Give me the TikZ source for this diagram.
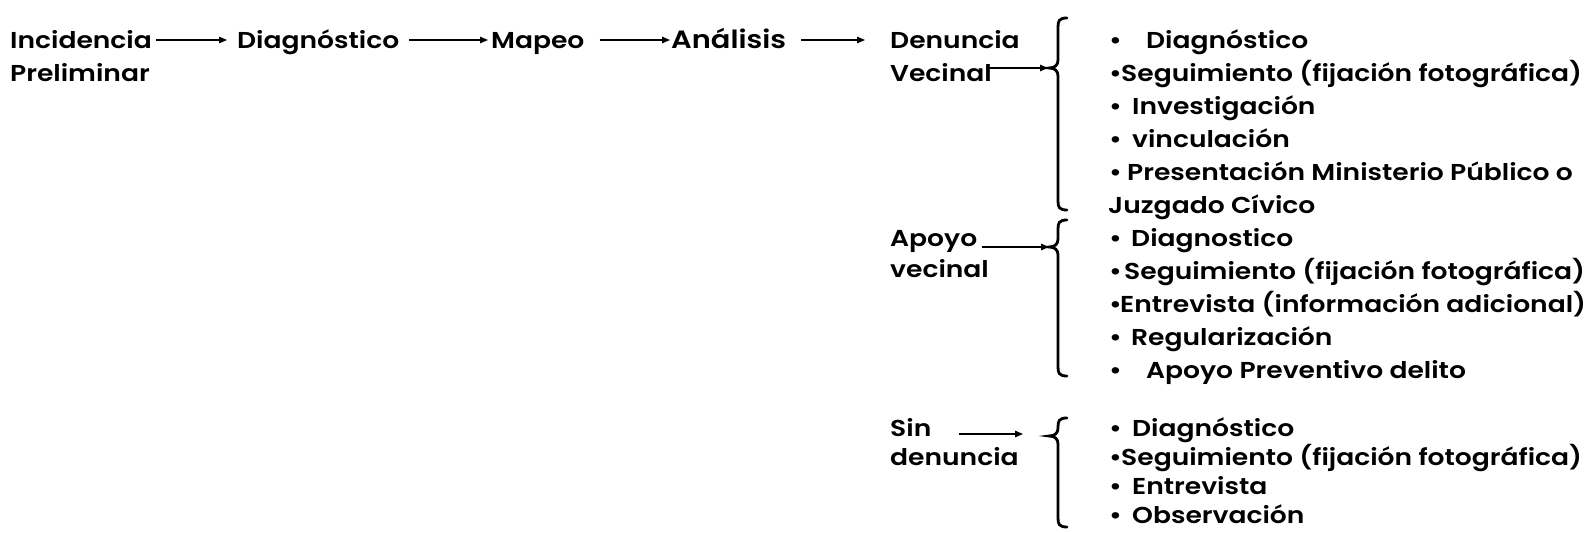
\documentclass[tikz,border=0pt]{standalone}
\usepackage{fontspec}
\setmainfont{Poppins}[UprightFont=* SemiBold, FakeStretch=1.155]
\usetikzlibrary{arrows.meta}
\newcommand\lsti[2]{\makebox[#1pt][l]{\textbullet}#2}
\newcommand\curly[3]{%
  \draw[brc] (1067,#1) .. controls (1059,#1) and (1058,#1+3) .. (1058,#1+9)
    -- (1058,#2-8) .. controls (1058,#2-3) and (1055,#2) .. (1049,#2)
    .. controls (1055,#2) and (1058,#2+3) .. (1058,#2+8)
    -- (1058,#3-9) .. controls (1058,#3-3) and (1059,#3) .. (1067,#3);}
\begin{document}
\begin{tikzpicture}[x=1pt,y=-1pt,
  lbl/.style={anchor=base west, inner sep=0pt, font=\fontsize{23}{28}\selectfont},
  big/.style={lbl, font=\fontsize{25}{30}\selectfont},
  arr/.style={line width=1.3pt, -{Triangle[length=8pt,width=6.5pt]}},
  brc/.style={line width=2.8pt, line cap=round}]
\useasboundingbox[fill=white] (0,0) rectangle (1591,533);

% main chain
\node[lbl] (inc) at (10,48) {Incidencia};
\node[lbl] (prel) at (10,81) {Preliminar};
\node[lbl] (diag) at (237,48) {Diagnóstico};
\node[lbl] (map) at (491,48) {Mapeo};
\node[big] (ana) at (671,48) {Análisis};
\node[lbl] (den) at (890,48) {Denuncia};
\node[lbl] (vec) at (890,81) {Vecinal};
\node[lbl] (apo) at (890,246) {Apoyo};
\node[lbl] (avec) at (890,277) {vecinal};
\node[lbl] (sin) at (890,436) {Sin};
\node[lbl] (sden) at (890,465) {denuncia};

\draw[arr] ([shift={(4,-8)}]inc.base east) -- ([shift={(-10,-8)}]diag.base west);
\draw[arr] ([shift={(10,-8)}]diag.base east) -- ([shift={(-3,-8)}]map.base west);
\draw[arr] ([shift={(15,-8)}]map.base east) -- ([shift={(-1,-8)}]ana.base west);
\draw[arr] ([shift={(15,-8)}]ana.base east) -- ([shift={(-25,-8)}]den.base west);

% braces
\curly{18}{68}{210}
\curly{220}{247}{376}
\curly{418}{436}{527}
\coordinate (c1) at (1048,68);
\coordinate (c2) at (1049,247);
\coordinate (s3) at (1023,434);
\draw[arr] ([shift={(-6,-13)}]vec.base east) -- (c1);
\draw[arr] ([shift={(5,1)}]apo.base east) -- (c2);
\draw[arr] ([shift={(27,-2)}]sin.base east) -- (s3);

% list 1
\node[lbl] (a1) at (1109,48) {\lsti{37}{Diagnóstico}};
\node[lbl] (a2) at (1109,81) {\lsti{12}{Seguimiento (fijación fotográfica)}};
\node[lbl] (a3) at (1109,114) {\lsti{23}{Investigación}};
\node[lbl] (a4) at (1109,147) {\lsti{23}{vinculación}};
\node[lbl] (a5) at (1109,180) {\lsti{18}{Presentación Ministerio Público o}};
\node[lbl] (a6) at (1108,213) {Juzgado Cívico};
% list 2
\node[lbl] (b1) at (1109,246) {\lsti{22}{Diagnostico}};
\node[lbl] (b2) at (1109,279) {\lsti{15}{Seguimiento (fijación fotográfica)}};
\node[lbl] (b3) at (1109,312) {\lsti{11}{Entrevista (información adicional)}};
\node[lbl] (b4) at (1109,345) {\lsti{22}{Regularización}};
\node[lbl] (b5) at (1109,378) {\lsti{37}{Apoyo Preventivo delito}};
% list 3
\node[lbl] (d1) at (1109,436) {\lsti{23}{Diagnóstico}};
\node[lbl] (d2) at (1109,465) {\lsti{12}{Seguimiento (fijación fotográfica)}};
\node[lbl] (d3) at (1109,494) {\lsti{23}{Entrevista}};
\node[lbl] (d4) at (1109,523) {\lsti{23}{Observación}};
\end{tikzpicture}
\end{document}
